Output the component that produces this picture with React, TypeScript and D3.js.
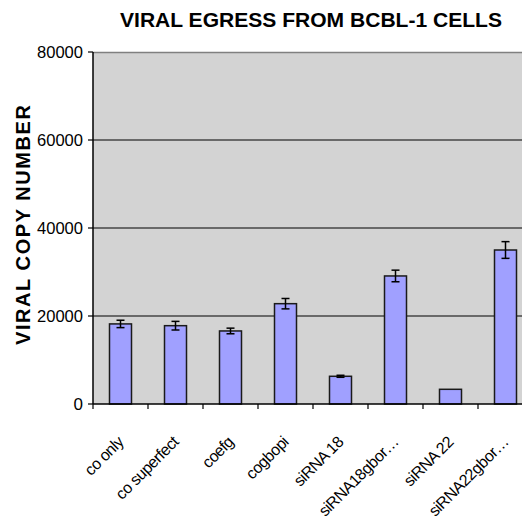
import React from "react";
import * as d3 from "d3";

const categories = [
  "co only",
  "co superfect",
  "coefg",
  "cogbopi",
  "siRNA 18",
  "siRNA18gbor…",
  "siRNA 22",
  "siRNA22gbor…",
];
const values = [18200, 17800, 16600, 22800, 6300, 29100, 3340, 35000];
const errors = [840, 980, 640, 1180, 230, 1320, 0, 1900];
const yTicks = [0, 20000, 40000, 60000, 80000];
const title = "VIRAL EGRESS FROM BCBL-1 CELLS";
const yTitle = "VIRAL COPY NUMBER";

const W = 522;
const H = 523;
const left = 93;
const top = 52;
const bottom = 404;
const step = 55;

export default function App() {
  const x = d3
    .scaleBand<string>()
    .domain(categories)
    .range([left, left + step * categories.length])
    .paddingInner(0.6)
    .paddingOuter(0.3);
  const y = d3.scaleLinear().domain([0, 80000]).range([bottom, top]);
  const font = "'Liberation Sans', Arial, sans-serif";
  const bounds = categories.map((_, i) => left + i * step);
  bounds.push(left + categories.length * step);

  return (
    <svg
      width={W}
      height={H}
      style={{ position: "absolute", left: 0, top: 0, background: "#fff" }}
    >
      <rect x={left} y={top} width={W - left} height={bottom - top} fill="#d3d3d3" />
      <line x1={left} x2={W} y1={top + 0.5} y2={top + 0.5} stroke="#808080" strokeWidth={1.5} />
      {yTicks
        .filter((t) => t > 0 && t < 80000)
        .map((t) => (
          <line key={t} x1={left} x2={W} y1={y(t)} y2={y(t)} stroke="#000" strokeWidth={1.2} />
        ))}
      {categories.map((c, i) => {
        const bx = x(c)!;
        const bw = x.bandwidth();
        const cx = bx + bw / 2;
        const e = errors[i];
        return (
          <g key={c}>
            <rect
              x={bx}
              y={y(values[i])}
              width={bw}
              height={bottom - y(values[i])}
              fill="#a0a0ff"
              stroke="#1a1a1a"
              strokeWidth={1.5}
            />
            {e > 0 && (
              <g stroke="#000" strokeWidth={1.5}>
                <line x1={cx} x2={cx} y1={y(values[i] + e)} y2={y(values[i] - e)} />
                <line x1={cx - 4} x2={cx + 4} y1={y(values[i] + e)} y2={y(values[i] + e)} />
                <line x1={cx - 4} x2={cx + 4} y1={y(values[i] - e)} y2={y(values[i] - e)} />
              </g>
            )}
          </g>
        );
      })}
      <line x1={left} x2={left} y1={top} y2={bottom} stroke="#000" strokeWidth={1.5} />
      <line x1={left} x2={W} y1={bottom} y2={bottom} stroke="#000" strokeWidth={1.5} />
      {yTicks.map((t) => (
        <g key={t}>
          <line x1={left - 5} x2={left} y1={y(t)} y2={y(t)} stroke="#000" strokeWidth={1.2} />
          <text
            x={83}
            y={y(t) + 6}
            textAnchor="end"
            fontFamily={font}
            fontSize={17}
            fill="#000"
            textLength={t === 0 ? undefined : 46}
            lengthAdjust="spacingAndGlyphs"
          >
            {t}
          </text>
        </g>
      ))}
      {bounds.map((b, i) => (
        <line key={i} x1={b} x2={b} y1={bottom} y2={bottom + 5} stroke="#000" strokeWidth={1.2} />
      ))}
      {categories.map((c) => {
        const cx = x(c)! + x.bandwidth() / 2;
        const ax = cx + 4;
        const ay = 443;
        return (
          <text
            key={c}
            x={ax}
            y={ay}
            textAnchor="end"
            fontFamily={font}
            fontSize={16}
            fill="#000"
            letterSpacing={-0.5}
            transform={`rotate(-45 ${ax} ${ay})`}
          >
            {c}
          </text>
        );
      })}
      <text
        x={311}
        y={27}
        textAnchor="middle"
        fontFamily="'Liberation Sans Narrow', 'Liberation Sans', Arial, sans-serif"
        fontWeight="bold"
        fontSize={21}
        textLength={382}
        lengthAdjust="spacingAndGlyphs"
        fill="#000"
      >
        {title}
      </text>
      <text
        x={0}
        y={0}
        transform="translate(30 225) rotate(-90)"
        textAnchor="middle"
        fontFamily={font}
        fontWeight="bold"
        fontSize={20}
        textLength={240}
        lengthAdjust="spacing"
        fill="#000"
      >
        {yTitle}
      </text>
    </svg>
  );
}
